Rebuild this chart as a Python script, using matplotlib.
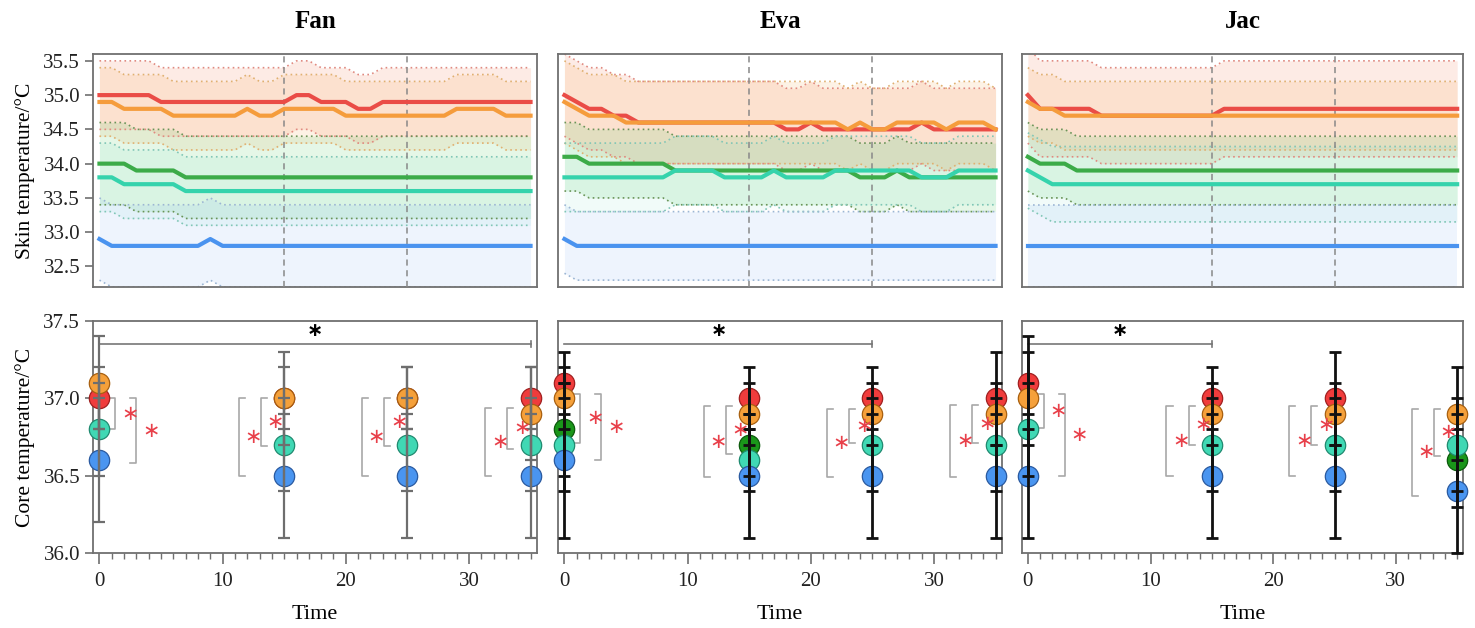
import numpy as np
import matplotlib.pyplot as plt
from matplotlib.ticker import MultipleLocator, FormatStrFormatter

plt.rcParams['font.family'] = ['Liberation Serif', 'DejaVu Sans']

# ---- skin temperature (top row), one value per minute ----
t_skin = list(range(36))

fan_skin_red = [35.0]*5 + [34.9]*11 + [35.0]*2 + [34.9]*3 + [34.8]*2 + [34.9]*13
fan_skin_orange = [34.9]*2 + [34.8]*4 + [34.7]*6 + [34.8] + [34.7]*2 + [34.8]*5 + [34.7]*9 + [34.8]*4 + [34.7]*3
fan_skin_green = [34.0]*3 + [33.9]*4 + [33.8]*29
fan_skin_teal = [33.8]*2 + [33.7]*5 + [33.6]*29
fan_skin_blue = [32.9] + [32.8]*8 + [32.9] + [32.8]*26
fan_skin_sd = [0.5, 0.5, 0.6, 0.5, 0.6]

eva_skin_red = [35.0, 34.9, 34.8, 34.8, 34.7, 34.7] + [34.6]*12 + [34.5]*2 + [34.6] + [34.5]*8 + [34.6] + [34.5]*6
eva_skin_orange = [34.9, 34.8, 34.7, 34.7, 34.7] + [34.6]*18 + [34.5] + [34.6] + [34.5]*2 + [34.6]*4 + [34.5] + [34.6]*3 + [34.5]
eva_skin_green = [34.1]*2 + [34.0]*7 + [33.9]*15 + [33.8]*3 + [33.9] + [33.8]*8
eva_skin_teal = [33.8]*9 + [33.9]*4 + [33.8]*4 + [33.9] + [33.8]*4 + [33.9]*7 + [33.8]*3 + [33.9]*4
eva_skin_blue = [32.9] + [32.8]*35
eva_skin_sd = [0.6, 0.6, 0.5, 0.5, 0.5]

jac_skin_red = [35.0] + [34.8]*5 + [34.7]*10 + [34.8]*20
jac_skin_orange = [34.9] + [34.8]*2 + [34.7]*33
jac_skin_green = [34.1] + [34.0]*3 + [33.9]*32
jac_skin_teal = [33.9] + [33.8] + [33.7]*34
jac_skin_blue = [32.8]*36
jac_skin_sd = [0.7, 0.5, 0.5, 0.55, 0.6]

# ---- core temperature (bottom row) ----
t_core = [0, 15, 25, 35]
nan = np.nan

fan_core_red = [37.0, 37.0, 37.0, 37.0]
fan_core_orange = [37.1, 37.0, 37.0, 36.9]
fan_core_green = [nan, nan, nan, nan]
fan_core_teal = [36.8, 36.7, 36.7, 36.7]
fan_core_blue = [36.6, 36.5, 36.5, 36.5]
fan_core_sd = [[0.2, 0.2, 0.2, 0.2], [0.3, 0.3, 0.2, 0.3], [0.3, 0.3, 0.3, 0.3],
               [0.3, 0.3, 0.3, 0.3], [0.4, 0.4, 0.4, 0.4]]

eva_core_red = [37.1, 37.0, 37.0, 37.0]
eva_core_orange = [37.0, 36.9, 36.9, 36.9]
eva_core_green = [36.8, 36.7, nan, nan]
eva_core_teal = [36.7, 36.6, 36.7, 36.7]
eva_core_blue = [36.6, 36.5, 36.5, 36.5]
eva_core_sd = [[0.2, 0.2, 0.2, 0.3], [0.2, 0.2, 0.2, 0.2], [0.3, 0.2, 0.2, 0.2],
               [0.3, 0.2, 0.3, 0.3], [0.5, 0.4, 0.4, 0.4]]

jac_core_red = [37.1, 37.0, 37.0, nan]
jac_core_orange = [37.0, 36.9, 36.9, 36.9]
jac_core_green = [nan, nan, nan, 36.6]
jac_core_teal = [36.8, 36.7, 36.7, 36.7]
jac_core_blue = [36.5, 36.5, 36.5, 36.4]
jac_core_sd = [[0.3, 0.2, 0.3, 0.3], [0.3, 0.2, 0.2, 0.3], [0.3, 0.3, 0.3, 0.3],
               [0.3, 0.3, 0.3, 0.3], [0.4, 0.4, 0.4, 0.4]]

# significance brackets (top, inner bottom, outer bottom) per time point
fan_brk_top = [37.0, 37.0, 37.0, 36.94]
fan_brk_inner = [36.8, 36.69, 36.69, 36.67]
fan_brk_outer = [36.58, 36.5, 36.5, 36.5]
eva_brk_top = [37.03, 36.95, 36.93, 36.96]
eva_brk_inner = [36.71, 36.64, 36.71, 36.71]
eva_brk_outer = [36.6, 36.49, 36.49, 36.49]
jac_brk_top = [37.03, 36.95, 36.95, 36.93]
jac_brk_inner = [36.81, 36.7, 36.7, 36.63]
jac_brk_outer = [36.5, 36.5, 36.5, 36.37]

# black bar from time 0 to this time
sig_end = {'Fan': 35, 'Eva': 25, 'Jac': 15}

subjects = ['Fan', 'Eva', 'Jac']

line_colors = ['#ea4c46', '#f59c3c', '#3cab48', '#35d3ac', '#4a93ef']
fill_colors = ['#f4845f', '#f8b060', '#66d476', '#66dcc4', '#8fb8f5']
fill_alpha = [0.16, 0.16, 0.17, 0.09, 0.15]
dot_colors = ['#e08a80', '#e0b070', '#6a9458', '#80c6b6', '#9cb6d4']
marker_colors = ['#f03c3c', '#f5a03a', '#1a961a', '#40d8b4', '#4a95f0']
marker_edges = ['#a02020', '#a86010', '#0c5a0c', '#208a70', '#2a5aa0']

skin = {
    'Fan': ([fan_skin_red, fan_skin_orange, fan_skin_green, fan_skin_teal, fan_skin_blue], fan_skin_sd),
    'Eva': ([eva_skin_red, eva_skin_orange, eva_skin_green, eva_skin_teal, eva_skin_blue], eva_skin_sd),
    'Jac': ([jac_skin_red, jac_skin_orange, jac_skin_green, jac_skin_teal, jac_skin_blue], jac_skin_sd),
}
core = {
    'Fan': ([fan_core_red, fan_core_orange, fan_core_green, fan_core_teal, fan_core_blue], fan_core_sd),
    'Eva': ([eva_core_red, eva_core_orange, eva_core_green, eva_core_teal, eva_core_blue], eva_core_sd),
    'Jac': ([jac_core_red, jac_core_orange, jac_core_green, jac_core_teal, jac_core_blue], jac_core_sd),
}
brackets = {
    'Fan': (fan_brk_top, fan_brk_inner, fan_brk_outer),
    'Eva': (eva_brk_top, eva_brk_inner, eva_brk_outer),
    'Jac': (jac_brk_top, jac_brk_inner, jac_brk_outer),
}

W, H = 1475, 628
fig = plt.figure(figsize=(W / 100, H / 100), dpi=100)
lefts = [93.3, 558.3, 1021.7]
widths = [443.4, 443.4, 441.6]

spine_col = '#707070'


def style_axes(ax):
    for s in ax.spines.values():
        s.set_color(spine_col)
        s.set_linewidth(1.3)
    ax.tick_params(colors=spine_col, labelcolor='#222222', labelsize=15)
    ax.set_xlim(-0.5, 35.5)


for i, name in enumerate(subjects):
    x0 = lefts[i] / W
    w = widths[i] / W

    # ---------- skin ----------
    ax = fig.add_axes([x0, 1 - 287 / H, w, 233 / H])
    style_axes(ax)
    means, sds = skin[name]
    for k in range(5):
        m = np.array(means[k])
        lo, hi = m - sds[k], m + sds[k]
        ax.fill_between(t_skin, lo, hi, color=fill_colors[k], alpha=fill_alpha[k], lw=0, zorder=1)
        ax.plot(t_skin, hi, color=dot_colors[k], lw=1.2, ls=(0, (1, 2)), zorder=2)
        ax.plot(t_skin, lo, color=dot_colors[k], lw=1.2, ls=(0, (1, 2)), zorder=2)
    for k in range(5):
        ax.plot(t_skin, means[k], color=line_colors[k], lw=3, zorder=4)
    for xv in (15, 25):
        ax.axvline(xv, color='#888888', lw=1.1, ls=(0, (4, 3)), zorder=3)
    ax.set_ylim(32.2, 35.6)
    ax.yaxis.set_major_locator(MultipleLocator(0.5))
    ax.yaxis.set_major_formatter(FormatStrFormatter('%.1f'))
    ax.set_xticks([])
    if i == 0:
        ax.tick_params(axis='y', length=6, width=1.2, direction='out')
        ax.set_ylabel('Skin temperature/°C', fontsize=15.5, labelpad=6)
    else:
        ax.set_yticks([])
    ax.set_title(name, fontsize=18, fontweight='bold', pad=19)

    # ---------- core ----------
    ax = fig.add_axes([x0, 1 - 553 / H, w, 232 / H])
    style_axes(ax)
    means, sds = core[name]
    ecol = '#6e6e6e' if name == 'Fan' else '#111111'
    elw = 1.6 if name == 'Fan' else 2.0
    for k in range(5):
        ax.scatter(t_core, means[k], s=215, color=marker_colors[k], edgecolors=marker_edges[k],
                   linewidths=0.9, zorder=3 + 0.1 * k, clip_on=False)
    for k in range(5):
        ax.errorbar(t_core, means[k], yerr=sds[k], fmt='none', ecolor=ecol, elinewidth=elw,
                    capsize=4.5, capthick=elw, zorder=5, clip_on=False)

    top, inner, outer = brackets[name]
    for j, t in enumerate(t_core):
        if t == 0:
            bx = [(t + 1.3, inner[j]), (t + 3.0, outer[j])]
            d = -1
        else:
            bx = [(t - 1.9, inner[j]), (t - 3.7, outer[j])]
            d = 1
        for xb, low in bx:
            ax.plot([xb + d * 0.5, xb, xb, xb + d * 0.5], [top[j], top[j], low, low],
                    color='#a8a8a8', lw=1.2, zorder=2)
            ax.text(xb + 1.2, (top[j] + low) / 2, '\u2217', color='#e8404a', fontsize=15,
                    ha='center', va='center', family=['DejaVu Sans'], zorder=6)

    end = sig_end[name]
    ax.plot([0, end], [37.35, 37.35], color='#777777', lw=1.2, zorder=2)
    ax.plot([end, end], [37.33, 37.37], color='#777777', lw=1.2, zorder=2)
    ax.text(end / 2, 37.44, '\u2217', color='black', fontsize=14, fontweight='bold',
            ha='center', va='center', family=['DejaVu Sans'])

    ax.set_ylim(36.0, 37.5)
    ax.xaxis.set_major_locator(MultipleLocator(10))
    ax.xaxis.set_minor_locator(MultipleLocator(1))
    ax.tick_params(axis='x', which='major', length=8, width=1.2, direction='out', pad=6)
    ax.tick_params(axis='x', which='minor', length=4, width=1.0, direction='out', colors=spine_col)
    ax.set_xlabel('Time', fontsize=16, labelpad=10)
    if i == 0:
        ax.yaxis.set_major_locator(MultipleLocator(0.5))
        ax.yaxis.set_major_formatter(FormatStrFormatter('%.1f'))
        ax.tick_params(axis='y', length=6, width=1.2, direction='out')
        ax.set_ylabel('Core temperature/°C', fontsize=15.5, labelpad=6)
    else:
        ax.set_yticks([])

fig.savefig('out.png', dpi=100)
